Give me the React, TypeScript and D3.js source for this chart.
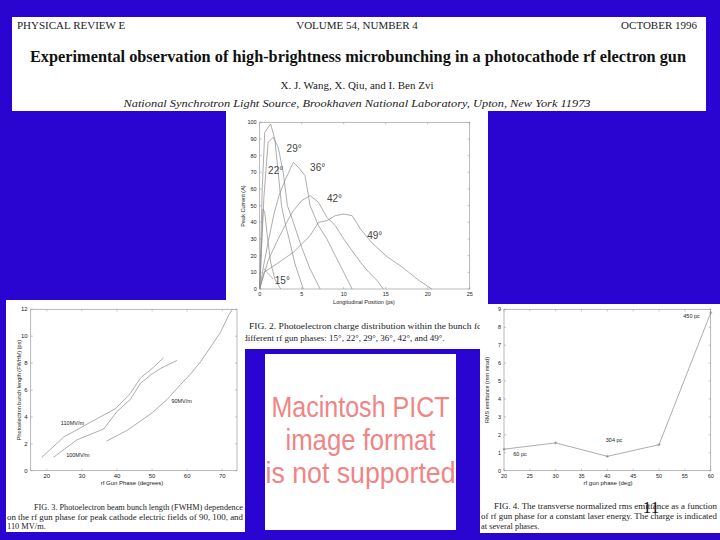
import React from 'react';
import * as d3 from 'd3';

const BLUE = '#2a05d2';
const SERIF = '"Liberation Serif", "DejaVu Serif", serif';
const SANS = '"Liberation Sans", Arial, sans-serif';
const INK = '#222';
const LINE = '#8a8a8a';

// header of the paper
const journalLine = ['PHYSICAL REVIEW E', 'VOLUME 54, NUMBER 4', 'OCTOBER 1996'];
const paperTitle = 'Experimental observation of high-brightness microbunching in a photocathode rf electron gun';
const authors = 'X. J. Wang, X. Qiu, and I. Ben Zvi';
const affiliation = 'National Synchrotron Light Source, Brookhaven National Laboratory, Upton, New York 11973';

// FIG. 2 - charge distribution, [position ps, current A]
const fig2Phases = ['15°', '22°', '29°', '36°', '42°', '49°'];
const curve15 = [[0, 0], [0.2, 25], [0.4, 48], [0.6, 46], [0.9, 32], [1.3, 16], [1.8, 6], [2.5, 0]];
const curve22 = [[0, 0], [0.3, 60], [0.6, 94], [1.3, 99], [1.8, 90], [2.2, 70], [2.6, 50], [3, 40], [3.5, 30], [4.2, 15], [5.2, 0]];
const curve29 = [[0, 0], [0.5, 55], [1, 88], [1.6, 91], [2.2, 85], [2.8, 70], [3.3, 50], [4, 40], [5, 25], [6, 12], [7.2, 0]];
const curve36 = [[0, 0], [0.5, 15], [1, 28], [1.7, 45], [2.3, 56], [3, 65], [4, 76], [4.6, 73], [5.4, 68], [6, 50], [7, 38], [8, 30], [9, 20], [10, 10], [11, 0]];
const curve42 = [[0, 0], [1, 17], [2, 28], [3, 38], [4, 47], [5, 53], [6, 56], [7, 52], [8, 43], [9, 38], [10, 30], [11, 23], [12, 16], [13, 10], [14, 5], [14.7, 0]];
const curve49 = [[0, 0], [0.5, 10], [2, 15], [4, 22], [6, 32], [7, 40], [8, 41], [9, 44], [10, 45], [11, 44], [12, 36], [13.3, 28], [15, 20], [17, 13], [19, 5], [20.5, 0]];
const fig2Curves = [curve15, curve22, curve29, curve36, curve42, curve49];
const fig2XTicks = [0, 5, 10, 15, 20, 25];
const fig2YTicks = [0, 10, 20, 30, 40, 50, 60, 70, 80, 90, 100];
const fig2Caption = [
  'FIG. 2. Photoelectron charge distribution within the bunch for',
  'a different rf gun phases: 15°, 22°, 29°, 36°, 42°, and 49°.',
];

// FIG. 3 - bunch length vs phase
const fig3Fields = ['110MV/m', '100MV/m', '90MV/m'];
const fig3Phase110 = [18.6, 24.8, 32.4, 39.5, 43.8, 46.7, 50, 53.3];
const fig3Length110 = [1.0, 2.5, 3.6, 4.6, 5.75, 6.9, 7.6, 8.4];
const fig3Phase100 = [21.9, 28.6, 36.2, 40, 43.8, 46.7, 50, 52.4, 57.1];
const fig3Length100 = [1.0, 2.3, 3.1, 4.4, 5.3, 6.5, 7.2, 7.6, 8.2];
const fig3Phase90 = [37, 42.9, 50, 54.3, 58.1, 61, 63.8, 66.7, 69.5, 71.9, 72.9];
const fig3Length90 = [2.2, 3.0, 4.3, 5.3, 6.4, 7.2, 8.1, 9.2, 10.3, 11.6, 12];
const fig3XTicks = [20, 30, 40, 50, 60, 70];
const fig3YTicks = [0, 2, 4, 6, 8, 10, 12];
const fig3Caption = [
  'FIG. 3. Photoelectron beam bunch length (FWHM) dependence',
  'on the rf gun phase for peak cathode electric fields of 90, 100, and',
  '110 MV/m.',
];

// FIG. 4 - emittance vs phase
const fig4Phase = [20, 30, 40, 50, 60];
const fig4Emittance = [1.2, 1.55, 0.8, 1.45, 8.8];
const fig4Charges = ['60 pc', '304 pc', '450 pc'];
const fig4XTicks = [20, 25, 30, 35, 40, 45, 50, 55, 60];
const fig4YTicks = [0, 1, 2, 3, 4, 5, 6, 7, 8, 9];
const fig4Caption = [
  'FIG. 4. The transverse normalized rms emittance as a function',
  'of rf gun phase for a constant laser energy. The charge is indicated',
  'at several phases.',
];

const pictLines = ['Macintosh PICT', 'image format', 'is not supported'];

type Scale = d3.ScaleLinear<number, number>;

function Frame({ x, y, xTicks, yTicks, tickSize = 6 }: { x: Scale; y: Scale; xTicks: number[]; yTicks: number[]; tickSize?: number }) {
  const [x0, x1] = x.range();
  const [y0, y1] = y.range();
  return (
    <g>
      <rect x={x0} y={y1} width={x1 - x0} height={y0 - y1} fill="none" stroke="#9a9a9a" strokeWidth={0.7} />
      {xTicks.map((t) => (
        <g key={'x' + t}>
          <line x1={x(t)} x2={x(t)} y1={y0} y2={y0 - 2} stroke="#9a9a9a" strokeWidth={0.6} />
          <line x1={x(t)} x2={x(t)} y1={y1} y2={y1 + 2} stroke="#9a9a9a" strokeWidth={0.6} />
          <text x={x(t)} y={y0 + 7} fontSize={tickSize} textAnchor="middle" fontFamily={SANS} fill={INK}>{t}</text>
        </g>
      ))}
      {yTicks.map((t) => (
        <g key={'y' + t}>
          <line x1={x0} x2={x0 + 2} y1={y(t)} y2={y(t)} stroke="#9a9a9a" strokeWidth={0.6} />
          <line x1={x1} x2={x1 - 2} y1={y(t)} y2={y(t)} stroke="#9a9a9a" strokeWidth={0.6} />
          <text x={x0 - 3} y={y(t) + 2} fontSize={tickSize} textAnchor="end" fontFamily={SANS} fill={INK}>{t}</text>
        </g>
      ))}
    </g>
  );
}

function Fig2() {
  const x = d3.scaleLinear().domain([0, 25]).range([259.7, 469.7]);
  const y = d3.scaleLinear().domain([0, 100]).range([289, 122.3]);
  const line = d3.line<number[]>().x((d) => x(d[0])).y((d) => y(d[1]));
  const labelAt = [[1.8, 3], [1.0, 69], [3.2, 82], [6.0, 71], [8.0, 52], [12.8, 30]];
  return (
    <g>
      <Frame x={x} y={y} xTicks={fig2XTicks} yTicks={fig2YTicks} tickSize={5.5} />
      {fig2Curves.map((c, i) => (
        <path key={i} d={line(c) || ''} fill="none" stroke={LINE} strokeWidth={0.7} />
      ))}
      <line x1={x(1.6)} y1={y(6)} x2={x(0.5)} y2={y(12)} stroke={LINE} strokeWidth={0.6} />
      {fig2Phases.map((p, i) => (
        <text key={p} x={x(labelAt[i][0])} y={y(labelAt[i][1])} fontSize={10} fontFamily={SANS} fill="#444">{p}</text>
      ))}
      <text x={364} y={304} fontSize={5.5} textAnchor="middle" fontFamily={SANS} fill={INK}>Longitudinal Position (ps)</text>
      <text transform="translate(245,206) rotate(-90)" fontSize={5.5} textAnchor="middle" fontFamily={SANS} fill={INK}>Peak Current (A)</text>
      <text x={249} y={329} fontSize={9} fontFamily={SERIF} fill={INK} textLength={236} lengthAdjust="spacingAndGlyphs">{fig2Caption[0]}</text>
      <text x={237} y={340.5} fontSize={9} fontFamily={SERIF} fill={INK}>{fig2Caption[1]}</text>
    </g>
  );
}

function Fig3() {
  const x = d3.scaleLinear().domain([15.4, 74.2]).range([30.7, 237]);
  const y = d3.scaleLinear().domain([0, 12]).range([470.7, 309.3]);
  const series = [
    [fig3Phase110, fig3Length110],
    [fig3Phase100, fig3Length100],
    [fig3Phase90, fig3Length90],
  ];
  const labelAt = [[24, 3.4], [25.5, 1.0], [55.5, 5.0]];
  return (
    <g>
      <Frame x={x} y={y} xTicks={fig3XTicks} yTicks={fig3YTicks} tickSize={6} />
      {series.map(([xs, ys], i) => {
        const pts = xs.map((v, k) => [v, ys[k]]);
        const p = d3.line<number[]>().x((d) => x(d[0])).y((d) => y(d[1]))(pts) || '';
        return <path key={i} d={p} fill="none" stroke={LINE} strokeWidth={0.7} />;
      })}
      {fig3Fields.map((f, i) => (
        <text key={f} x={x(labelAt[i][0])} y={y(labelAt[i][1])} fontSize={5.5} fontFamily={SANS} fill={INK}>{f}</text>
      ))}
      <text x={132} y={485} fontSize={6} textAnchor="middle" fontFamily={SANS} fill={INK}>rf Gun Phase (degrees)</text>
      <text transform="translate(21,390) rotate(-90)" fontSize={5.5} textAnchor="middle" fontFamily={SANS} fill={INK}>Photoelectron bunch length (FWHM) (ps)</text>
      {fig3Caption.map((t, i) => (
        <text key={i} x={i === 0 ? 34 : 7} y={510 + i * 9.5} fontSize={8.4} fontFamily={SERIF} fill={INK}
          textLength={i === 0 ? 209 : i === 1 ? 236 : undefined} lengthAdjust="spacingAndGlyphs">{t}</text>
      ))}
    </g>
  );
}

function Fig4() {
  const x = d3.scaleLinear().domain([20, 60]).range([504, 710.7]);
  const y = d3.scaleLinear().domain([0, 9]).range([470.7, 309.3]);
  const pts = fig4Phase.map((v, k) => [v, fig4Emittance[k]]);
  const p = d3.line<number[]>().x((d) => x(d[0])).y((d) => y(d[1]))(pts) || '';
  const labelAt = [[21.8, 0.8], [39.7, 1.6], [54.7, 8.5]];
  return (
    <g>
      <Frame x={x} y={y} xTicks={fig4XTicks} yTicks={fig4YTicks} tickSize={5.5} />
      <path d={p} fill="none" stroke={LINE} strokeWidth={0.7} />
      {pts.map((d, i) => (
        <g key={i} stroke="#777" strokeWidth={0.6}>
          <line x1={x(d[0]) - 1.5} x2={x(d[0]) + 1.5} y1={y(d[1])} y2={y(d[1])} />
          <line x1={x(d[0])} x2={x(d[0])} y1={y(d[1]) - 1.5} y2={y(d[1]) + 1.5} />
        </g>
      ))}
      {fig4Charges.map((c, i) => (
        <text key={c} x={x(labelAt[i][0])} y={y(labelAt[i][1])} fontSize={5.5} fontFamily={SANS} fill={INK}>{c}</text>
      ))}
      <text x={608} y={485} fontSize={6} textAnchor="middle" fontFamily={SANS} fill={INK}>rf gun phase (deg)</text>
      <text transform="translate(489,390) rotate(-90)" fontSize={5.5} textAnchor="middle" fontFamily={SANS} fill={INK}>RMS emittance (mm mrad)</text>
      {fig4Caption.map((t, i) => (
        <text key={i} x={i === 0 ? 494 : 481} y={509 + i * 10} fontSize={8.4} fontFamily={SERIF} fill={INK}
          textLength={i === 0 ? 223 : i === 1 ? 236 : undefined} lengthAdjust="spacingAndGlyphs">{t}</text>
      ))}
    </g>
  );
}

export default function App() {
  return (
    <svg width={720} height={540} viewBox="0 0 720 540" style={{ position: 'absolute', left: 0, top: 0, display: 'block' }}>
      <rect x={0} y={0} width={720} height={540} fill={BLUE} />
      <rect x={12} y={17} width={694} height={94} fill="#fff" />
      <rect x={226} y={110} width={262} height={239} fill="#fff" />
      <text x={17} y={29} fontSize={11} fontFamily={SERIF} fill={INK}>{journalLine[0]}</text>
      <text x={357} y={29} fontSize={11} fontFamily={SERIF} fill={INK} textAnchor="middle">{journalLine[1]}</text>
      <text x={697} y={29} fontSize={11} fontFamily={SERIF} fill={INK} textAnchor="end">{journalLine[2]}</text>
      <text x={30} y={62} fontSize={17} fontWeight="bold" fontFamily={SERIF} fill="#111" textLength={656} lengthAdjust="spacingAndGlyphs">{paperTitle}</text>
      <text x={357} y={89} fontSize={11} fontFamily={SERIF} fill={INK} textAnchor="middle">{authors}</text>
      <text x={357} y={107} fontSize={10.5} fontStyle="italic" fontFamily={SERIF} fill={INK} textAnchor="middle" textLength={467} lengthAdjust="spacingAndGlyphs">{affiliation}</text>
      <Fig2 />
      <rect x={6} y={300} width={239} height={232} fill="#fff" />
      <Fig3 />
      <rect x={480} y={304} width={240} height={229} fill="#fff" />
      <Fig4 />
      <rect x={265} y={354} width={191} height={176} fill="#fff" />
      {pictLines.map((t, i) => (
        <text key={t} x={360.5} y={417 + i * 33} fontSize={29} fontFamily={SANS} fill="#ef8585" textAnchor="middle"
          textLength={[178, 150, 190][i]} lengthAdjust="spacingAndGlyphs">{t}</text>
      ))}
      <text x={651} y={513} fontSize={17} fontFamily={SERIF} fill="#111" textAnchor="middle">11</text>
    </svg>
  );
}
